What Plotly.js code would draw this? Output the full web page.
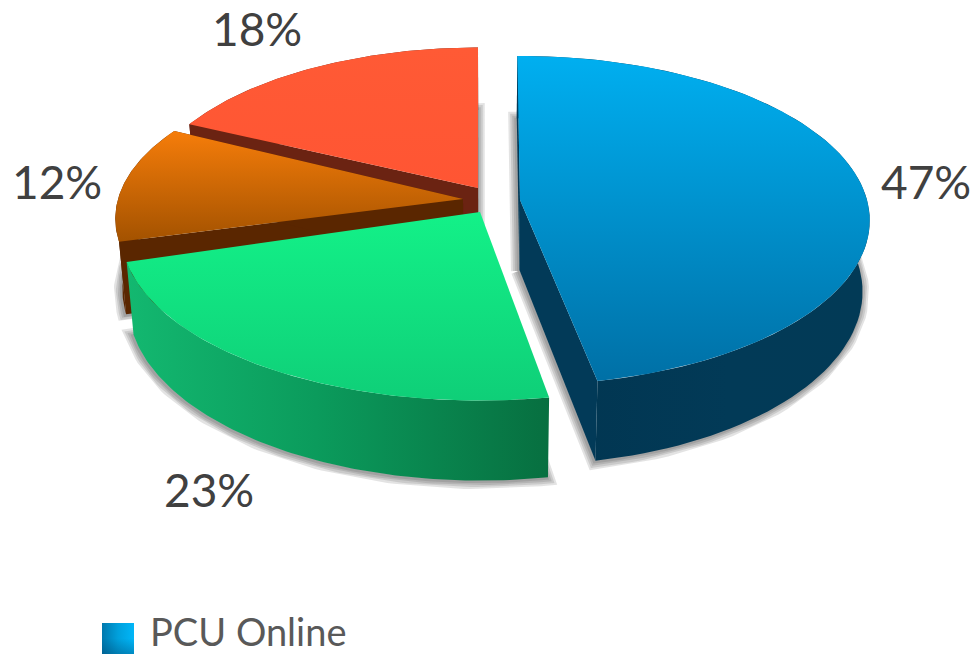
<!DOCTYPE html>
<html>
<head>
<meta charset="utf-8">
<script src="https://cdn.plot.ly/plotly-3.0.1.min.js"></script>
<style>html,body{margin:0;padding:0;background:#fff}#c{width:975px;height:654px}</style>
</head>
<body>
<div id="c"></div>
<script>
// Values
var sliceNames = ['PCU Online', 'Slice 2', 'Slice 3', 'Slice 4'];
var sharePct = [47, 23, 12, 18];
var legendLabels = ['PCU Online'];

// Styling and projection (not data)
var apexX = [520, 480, 463, 478];
var apexY = [200, 212, 199, 188];
var radA = [347, 356, 345, 336];
var radB = [162, 165, 155, 158];
var rotDeg = [-0.5, 1, 2.5, 0];
var topStops = [
  [[0,'#0070a6'],[1,'#00aff0']],
  [[0,'#0fcf78'],[1,'#13f188']],
  [[0,'#a35200'],[1,'#f67d0a']],
  [[0,'#ff5533'],[1,'#ff5a35']]
];
var wallStops = [
  [[0,'#013550'],[0.6,'#023a57'],[1,'#023a56']],
  [[0,'#13b870'],[0.45,'#0b9b5c'],[1,'#076f40']],
  [[0,'#5a2600'],[1,'#5a2600']],
  [[0,'#6b2312'],[1,'#6b2312']]
];
var cutColor = ['#023a58', '#0a9b5c', '#5a2600', '#6b2312'];
var labelX = [926, 209, 57, 257];
var labelY = [181, 489, 181, 28];
var K = 0.125, H = 70, Q = 0.019, CX = 490;

function proj(i, t, r, z) {
  var a = t + rotDeg[i] * Math.PI / 180;
  var Y = -Math.cos(a) * r, s = 1 / (1 - K * Y);
  var x = apexX[i] + radA[i] * Math.sin(a) * r * s;
  var y = apexY[i] + radB[i] * Y * s + z * s;
  x = CX + (x - CX) * (1 - Q * z / H);
  return [x, y];
}
function arc(i, a0, a1, z) {
  var p = [], n = 90;
  for (var j = 0; j <= n; j++) p.push(proj(i, a0 + (a1 - a0) * j / n, 1, z));
  return p;
}
function tr(pts, extra) {
  return Object.assign({
    x: pts.map(function (p) { return p[0]; }),
    y: pts.map(function (p) { return p[1]; }),
    mode: 'lines', line: {width: 0}, hoverinfo: 'skip', showlegend: false, type: 'scatter'
  }, extra);
}
function gradFill(stops, type) {
  return {fill: 'toself', fillgradient: {type: type, colorscale: stops}};
}

// Slice angles (clockwise from 12 o'clock), driven by the values
var TAU = Math.PI * 2, total = sharePct.reduce(function (a, b) { return a + b; }, 0);
var start = [], end = [], acc = 0;
sharePct.forEach(function (v, i) { start[i] = acc / total * TAU; acc += v; end[i] = acc / total * TAU; });

var traces = [];
// soft shadows behind everything
[0, 1, 2, 3].forEach(function (i) {
  var bottom = [proj(i, 0, 0, H)].concat(arc(i, start[i], end[i], H));
  bottom.push(bottom[0]);
  [15, 11, 7, 3].forEach(function (w) {
    traces.push(tr(bottom.map(function (p) { return [p[0] - 1, p[1] + 1]; }),
      {line: {width: w, color: 'rgba(40,40,40,0.13)'}}));
  });
});
// back-to-front: red, orange, green, blue
[3, 2, 1, 0].forEach(function (i) {
  var a0 = start[i], a1 = end[i];
  var wall = arc(i, a0, a1, 0).concat(arc(i, a0, a1, H).reverse());
  traces.push(tr(wall, gradFill(wallStops[i], 'horizontal')));
  // cut faces
  [a0, a1].forEach(function (a) {
    var f = [proj(i, 0, 0, 0), proj(i, a, 1, 0), proj(i, a, 1, H), proj(i, 0, 0, H)];
    if (i === 1) return;
    traces.push(tr(f, {fill: 'toself', fillcolor: cutColor[i]}));
  });
  var face = [proj(i, 0, 0, 0)].concat(arc(i, a0, a1, 0));
  face.push(face[0]);
  traces.push(tr(face, gradFill(topStops[i], 'vertical')));
});
// legend swatch
var sq = [[102,623],[134,623],[134,654],[102,654],[102,623]];
traces.push(tr(sq, gradFill([[0,'#0078ad'],[0.5,'#00a0dc'],[1,'#00b6f8']], 'horizontal')));
traces.push(tr(sq, gradFill([[0,'rgba(0,60,100,0.35)'],[0.5,'rgba(0,60,100,0)'],[1,'rgba(0,60,100,0)']], 'vertical')));

var anns = sharePct.map(function (v, i) {
  return {x: labelX[i], y: labelY[i], xref: 'x', yref: 'y', text: v + '%', showarrow: false,
    xanchor: 'center', yanchor: 'middle', font: {family: 'Lato', size: 46, color: '#404040'}};
});
anns.push({x: 148, y: 631, xref: 'x', yref: 'y', text: legendLabels[0], showarrow: false,
  xanchor: 'left', yanchor: 'middle', font: {family: 'Lato', size: 38, color: '#595959'}});

var hidden = {visible: false, fixedrange: true};
Plotly.newPlot('c', traces, {
  width: 975, height: 654,
  margin: {l: 0, r: 0, t: 0, b: 0},
  paper_bgcolor: '#fff', plot_bgcolor: '#fff',
  showlegend: false,
  xaxis: Object.assign({range: [0, 975]}, hidden),
  yaxis: Object.assign({range: [654, 0]}, hidden),
  annotations: anns
}, {displayModeBar: false, staticPlot: true});
</script>
</body>
</html>
